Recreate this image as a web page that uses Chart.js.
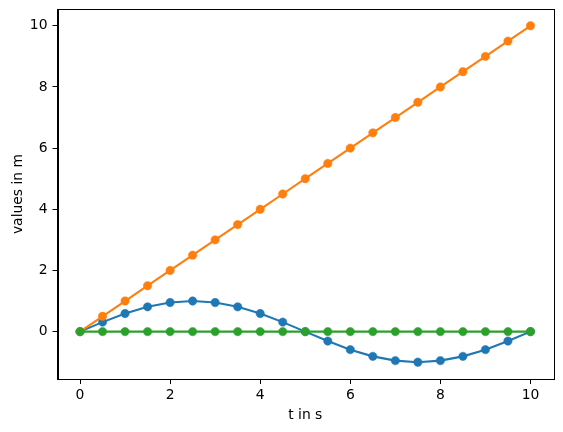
<!DOCTYPE html>
<html>
<head>
<meta charset="utf-8">
<script src="https://cdn.jsdelivr.net/npm/chart.js@4/dist/chart.umd.min.js"></script>
<style>
html,body{margin:0;padding:0;background:#fff;}
#wrap{width:563px;height:432px;position:relative;}
</style>
</head>
<body>
<div id="wrap"><canvas id="c" width="563" height="432"></canvas></div>
<script>
const tValues = [0,0.5,1,1.5,2,2.5,3,3.5,4,4.5,5,5.5,6,6.5,7,7.5,8,8.5,9,9.5,10];
const blueValues = [0,0.31,0.59,0.81,0.95,1.0,0.95,0.81,0.59,0.31,0,-0.31,-0.59,-0.81,-0.95,-1.0,-0.95,-0.81,-0.59,-0.31,0];
const orangeValues = [0,0.5,1,1.5,2,2.5,3,3.5,4,4.5,5,5.5,6,6.5,7,7.5,8,8.5,9,9.5,10];
const greenValues = [0,0,0,0,0,0,0,0,0,0,0,0,0,0,0,0,0,0,0,0,0];
const xTicks = [0,2,4,6,8,10];
const yTicks = [0,2,4,6,8,10];
const xLabel = 't in s';
const yLabel = 'values in m';

function pts(vals){ return tValues.map((t,i)=>({x:t,y:vals[i]})); }
function ds(vals,color,order){
  return {data:pts(vals),borderColor:color,backgroundColor:color,pointBackgroundColor:color,
    pointBorderColor:color,borderWidth:2.1,pointRadius:4.2,pointBorderWidth:0.5,pointHoverRadius:4.2,
    tension:0,order:order,clip:false};
}
const frame = {
  id:'frame',
  afterDraw(chart){
    const a=chart.chartArea, ctx=chart.ctx;
    ctx.save();
    ctx.strokeStyle='#000';ctx.lineWidth=1;
    ctx.strokeRect(Math.round(a.left)+0.5,Math.round(a.top)+0.5,Math.round(a.right-a.left),Math.round(a.bottom-a.top));
    ctx.restore();
  }
};
const font = {family:'DejaVu Sans',size:13.9};
new Chart(document.getElementById('c'),{
  type:'line',
  data:{datasets:[ds(blueValues,'#1f77b4',2),ds(orangeValues,'#ff7f0e',1),ds(greenValues,'#2ca02c',0)]},
  options:{
    responsive:false,animation:false,
    layout:{padding:{top:9,right:10,left:0,bottom:0}},
    plugins:{legend:{display:false},tooltip:{enabled:false}},
    scales:{
      x:{type:'linear',min:-0.5,max:10.5,
        afterBuildTicks(s){s.ticks=xTicks.map(v=>({value:v}));},
        afterFit(s){s.height=53;s.paddingLeft=0;s.paddingRight=0;},
        grid:{drawOnChartArea:false,tickLength:5,color:'#000',tickWidth:1},
        border:{color:'#000',width:1},
        ticks:{color:'#000',font:font,padding:3,maxRotation:0},
        title:{display:true,text:xLabel,color:'#000',font:font,padding:{top:0,bottom:8}}},
      y:{type:'linear',min:-1.55,max:10.55,
        afterBuildTicks(s){s.ticks=yTicks.map(v=>({value:v}));},
        afterFit(s){s.width=57.5;s.paddingTop=0;s.paddingBottom=0;},
        grid:{drawOnChartArea:false,tickLength:5,color:'#000',tickWidth:1},
        border:{color:'#000',width:1},
        ticks:{color:'#000',font:font,padding:5},
        title:{display:true,text:yLabel,color:'#000',font:font,padding:{top:10,bottom:0}}}
    }
  },
  plugins:[frame]
});
</script>
</body>
</html>
